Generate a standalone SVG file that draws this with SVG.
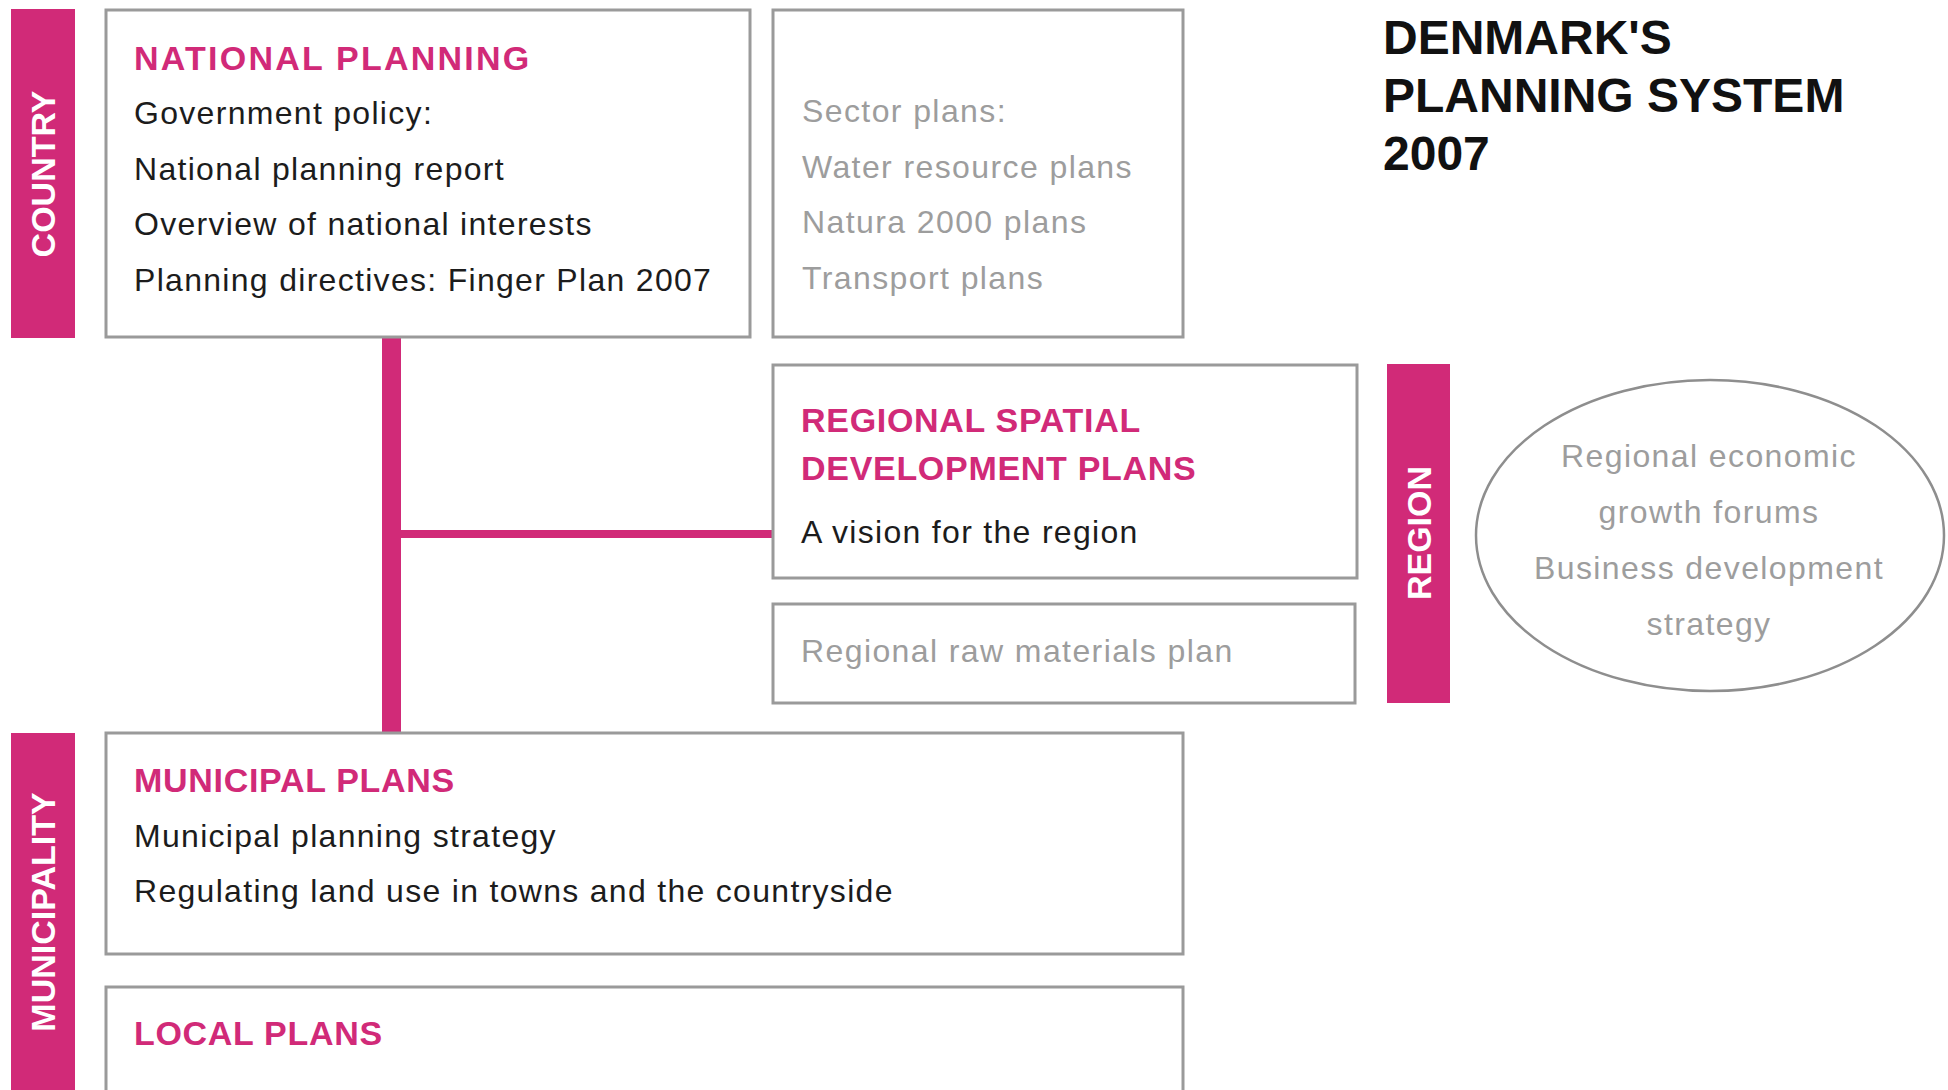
<svg xmlns="http://www.w3.org/2000/svg" width="1948" height="1090" viewBox="0 0 1948 1090">
  <style>
    .box { fill: #ffffff; stroke: #9a9a9a; stroke-width: 3; }
    .bar { fill: #d12a78; }
    .bar-label { font-family: "Liberation Sans", Arial, sans-serif; font-weight: bold; font-size: 34px; fill: #ffffff; }
    .head { font-family: "Liberation Sans", Arial, sans-serif; font-weight: bold; font-size: 34px; fill: #d12a78; letter-spacing: 0.7px; }
    .body { font-family: "Liberation Sans", Arial, sans-serif; font-size: 32px; fill: #1c1c1c; letter-spacing: 1.3px; }
    .muted { font-family: "Liberation Sans", Arial, sans-serif; font-size: 32px; fill: #9d9d9d; letter-spacing: 1.4px; }
    .title { font-family: "Liberation Sans", Arial, sans-serif; font-weight: bold; font-size: 48px; fill: #111111; }
    .link { stroke: #d12a78; fill: none; }
  </style>

  <!-- title -->
  <g id="title">
    <text class="title" x="1383" y="54">DENMARK'S</text>
    <text class="title" x="1383" y="112">PLANNING SYSTEM</text>
    <text class="title" x="1383" y="170">2007</text>
  </g>

  <!-- level bars -->
  <g id="bar-country">
    <rect class="bar" x="11" y="9" width="64" height="329"/>
    <text class="bar-label" transform="translate(43,174) rotate(-90)" text-anchor="middle" dominant-baseline="central">COUNTRY</text>
  </g>
  <g id="bar-region">
    <rect class="bar" x="1387" y="364" width="63" height="339"/>
    <text class="bar-label" transform="translate(1418.5,533) rotate(-90)" text-anchor="middle" dominant-baseline="central">REGION</text>
  </g>
  <g id="bar-municipality">
    <rect class="bar" x="11" y="733" width="64" height="360"/>
    <text class="bar-label" transform="translate(43,912) rotate(-90)" text-anchor="middle" dominant-baseline="central">MUNICIPALITY</text>
  </g>

  <!-- connectors -->
  <g id="connectors">
    <line class="link" x1="391.5" y1="338" x2="391.5" y2="733" stroke-width="19"/>
    <line class="link" x1="400" y1="534" x2="773" y2="534" stroke-width="8"/>
  </g>

  <g id="national-planning">
    <rect class="box" x="106" y="10" width="644" height="327"/>
    <text class="head" x="134" y="70" textLength="396">NATIONAL PLANNING</text>
    <text class="body" x="134" y="124">Government policy:</text>
    <text class="body" x="134" y="180">National planning report</text>
    <text class="body" x="134" y="235">Overview of national interests</text>
    <text class="body" x="134" y="291">Planning directives: Finger Plan 2007</text>
  </g>

  <g id="sector-plans">
    <rect class="box" x="773" y="10" width="410" height="327"/>
    <text class="muted" x="802" y="122">Sector plans:</text>
    <text class="muted" x="802" y="178">Water resource plans</text>
    <text class="muted" x="802" y="233">Natura 2000 plans</text>
    <text class="muted" x="802" y="289">Transport plans</text>
  </g>

  <g id="regional-spatial-plans">
    <rect class="box" x="773" y="365" width="584" height="213"/>
    <text class="head" x="801" y="432">REGIONAL SPATIAL</text>
    <text class="head" x="801" y="480">DEVELOPMENT PLANS</text>
    <text class="body" x="801" y="543">A vision for the region</text>
  </g>

  <g id="raw-materials-plan">
    <rect class="box" x="773" y="604" width="582" height="99"/>
    <text class="muted" x="801" y="662">Regional raw materials plan</text>
  </g>

  <g id="growth-forums">
    <ellipse cx="1710" cy="535.5" rx="234" ry="155.5" fill="#ffffff" stroke="#8e8e8e" stroke-width="2.5"/>
    <text class="muted" x="1709" y="467" text-anchor="middle">Regional economic</text>
    <text class="muted" x="1709" y="523" text-anchor="middle">growth forums</text>
    <text class="muted" x="1709" y="579" text-anchor="middle">Business development</text>
    <text class="muted" x="1709" y="635" text-anchor="middle">strategy</text>
  </g>

  <g id="municipal-plans">
    <rect class="box" x="106" y="733" width="1077" height="221"/>
    <text class="head" x="134" y="792">MUNICIPAL PLANS</text>
    <text class="body" x="134" y="847">Municipal planning strategy</text>
    <text class="body" x="134" y="902">Regulating land use in towns and the countryside</text>
  </g>

  <g id="local-plans">
    <rect class="box" x="106" y="987" width="1077" height="140"/>
    <text class="head" x="134" y="1045">LOCAL PLANS</text>
  </g>
</svg>
